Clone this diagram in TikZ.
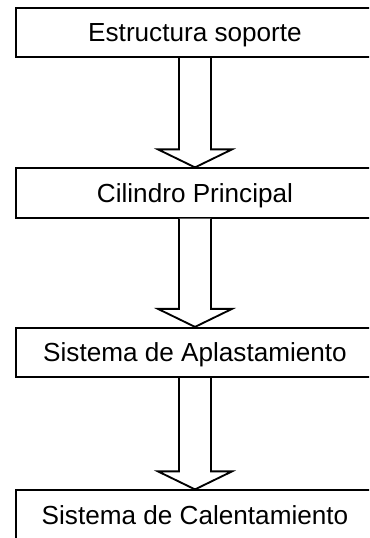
\documentclass[tikz,border=0pt]{standalone}
\usepackage{fontspec}
\setmainfont{Liberation Sans}
\usetikzlibrary{calc}

\tikzset{
  etapa/.style={draw, line width=1.4pt, inner sep=0pt,
    minimum width=268.5pt, minimum height=37pt,
    text height=14pt, text depth=0pt,
    font=\fontsize{19.6}{23}\selectfont},
  flechabloque/.style={draw, line width=1.4pt, fill=white}
}

% block arrow from the bottom of one box to the top of the next
\newcommand{\flechabloque}[2]{%
  \draw[flechabloque] ($(#1.south)+(-16,0)$) -- ($(#2.north)+(-16,-18)$)
    -- ($(#2.north)+(-37,-18)$) -- (#2.north) -- ($(#2.north)+(37,-18)$)
    -- ($(#2.north)+(16,-18)$) -- ($(#1.south)+(16,0)$);}

\begin{document}
\begin{tikzpicture}[x=0.75pt,y=0.75pt,yscale=-1,xscale=1]
  \useasboundingbox (0,0) rectangle (369,538);
  \clip (0,0) rectangle (369,538);

  % Boxes
  \node[etapa] (soporte) at (195,32.5) {Estructura soporte};
  \node[etapa] (cilindro) at (195,193) {Cilindro Principal};
  \node[etapa] (aplastamiento) at (195,352.5) {Sistema de Aplastamiento};
  \node[etapa] (calentamiento) at (195,515) {Sistema de Calentamiento};

  % Arrows
  \flechabloque{soporte}{cilindro}
  \flechabloque{cilindro}{aplastamiento}
  \flechabloque{aplastamiento}{calentamiento}
\end{tikzpicture}
\end{document}
